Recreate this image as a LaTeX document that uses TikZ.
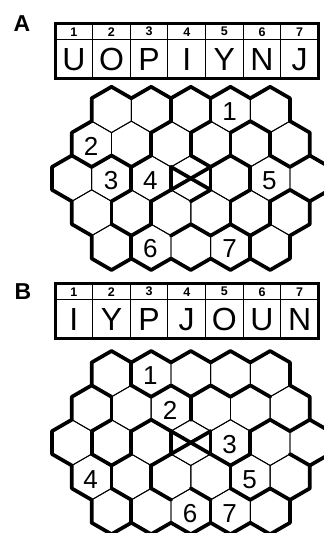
\documentclass[tikz,border=0pt]{standalone}
\usepackage{fontspec}
\setmainfont{Liberation Sans}
\newcommand\mkgrid[2]{%
 \foreach \u in {0,...,14}{\foreach \L in {0,...,11}{%
   \pgfmathsetmacro\yy{mod(\L,2)==0 ? #2-22.9+17.175*\L : #2-11.45+17.175*(\L-1)}%
   \coordinate (#1-\u-\L) at ({52+19.83*\u},\yy);}}}
\newcommand\thingrid[1]{%
 \foreach \r/\uu in {0/{3,5,7,9,11},1/{2,4,6,8,10,12},2/{1,3,5,7,9,11,13},3/{2,4,6,8,10,12},4/{3,5,7,9,11}}{%
  \foreach \u in \uu {%
   \pgfmathtruncatemacro\la{2*\r}\pgfmathtruncatemacro\lb{2*\r+1}%
   \pgfmathtruncatemacro\lc{2*\r+2}\pgfmathtruncatemacro\ld{2*\r+3}%
   \pgfmathtruncatemacro\um{\u-1}\pgfmathtruncatemacro\up{\u+1}%
   \draw[thn] (#1-\u-\la) -- (#1-\up-\lb) -- (#1-\up-\lc) -- (#1-\u-\ld) -- (#1-\um-\lc) -- (#1-\um-\lb) -- cycle;}}}
\newcommand\gridoutline[1]{%
 \draw[thk] (#1-2-1) -- (#1-3-0) -- (#1-4-1) -- (#1-5-0) -- (#1-6-1) -- (#1-7-0) -- (#1-8-1) -- (#1-9-0) -- (#1-10-1) -- (#1-11-0) -- (#1-12-1) -- (#1-12-2) -- (#1-13-3) -- (#1-13-4) -- (#1-14-5) -- (#1-14-6) -- (#1-13-7) -- (#1-13-8) -- (#1-12-9) -- (#1-12-10) -- (#1-11-11) -- (#1-10-10) -- (#1-9-11) -- (#1-8-10) -- (#1-7-11) -- (#1-6-10) -- (#1-5-11) -- (#1-4-10) -- (#1-3-11) -- (#1-2-10) -- (#1-2-9) -- (#1-1-8) -- (#1-1-7) -- (#1-0-6) -- (#1-0-5) -- (#1-1-4) -- (#1-1-3) -- (#1-2-2) -- cycle;}
\newcommand\lettertable[3]{% #1 prefix, #2 top y, #3 letters
 \pgfmathsetmacro\tb{#2+55.4}\pgfmathsetmacro\ts{#2+16}%
 \pgfmathsetmacro\tn{#2+8.4}\pgfmathsetmacro\tl{#2+36.2}%
 \foreach \k in {1,...,6}{\draw[thn] ({55+37.64*\k},#2) -- ({55+37.64*\k},\tb);}
 \draw[thn] (55,\ts) -- (318.5,\ts);
 \draw[line width=3pt] (55,#2) rectangle (318.5,\tb);
 \foreach \L [count=\k] in {#3}{%
   \node[num] (#1-n\k) at ({55+37.64*(\k-0.5)},\tn) {\k};
   \node[letter] (#1-l\k) at ({55+37.64*(\k-0.5)},\tl) {\L};}}
\begin{document}
\begin{tikzpicture}[x=1pt,y=-1pt,
  thn/.style={line width=0.9pt},
  thk/.style={line width=3.7pt,line cap=round,line join=round},
  digit/.style={font=\fontsize{26}{26}\selectfont,inner sep=0pt},
  letter/.style={font=\fontsize{32}{32}\selectfont,inner sep=0pt},
  num/.style={font=\bfseries\fontsize{12.5}{12.5}\selectfont,inner sep=0pt},
  panel/.style={font=\bfseries\fontsize{23}{23}\selectfont,inner sep=0pt}]
\useasboundingbox (0,0) rectangle (324,533);
\clip (0,0) rectangle (324,533);
% panel labels
\node[panel] (labA) at (22,24) {A};
\node[panel] (labB) at (23,292) {B};
% tables
\lettertable{tA}{23.3}{U,O,P,I,Y,N,J}
\lettertable{tB}{283.3}{I,Y,P,J,O,U,N}
% grid A
\mkgrid{A}{109.7}
\thingrid{A}
\gridoutline{A}
\foreach \p/\q in {6-1/6-2,8-1/8-2,
  5-3/6-2,7-3/8-2,9-3/10-2,10-2/11-3,
  5-3/5-4,7-3/7-4,9-3/9-4,11-3/11-4,
  1-4/2-5,2-5/3-4,3-4/4-5,4-5/5-4,7-4/8-5,8-5/9-4,9-4/10-5,11-4/12-5,12-5/13-4,
  4-5/4-6,6-5/6-6,8-5/8-6,10-5/10-6,6-5/8-6,6-6/8-5,
  3-7/4-6,5-7/6-6,7-7/8-6,9-7/10-6,11-7/12-6,12-6/13-7,
  3-7/3-8,5-7/5-8,9-7/9-8,11-7/11-8,
  3-8/4-9,4-9/5-8,6-9/7-8,7-8/8-9,8-9/9-8,9-8/10-9,10-9/11-8,
  4-9/4-10,10-9/10-10}
  {\draw[thk] (A-\p) -- (A-\q);}
% grid B
\mkgrid{B}{373.9}
\thingrid{B}
\gridoutline{B}
\foreach \p/\q in {4-1/4-2,
  2-2/3-3,4-2/5-3,5-3/6-2,6-2/7-3,7-3/8-2,8-2/9-3,9-3/10-2,10-2/11-3,
  3-3/3-4,7-3/7-4,
  2-5/3-4,4-5/5-4,5-4/6-5,10-5/11-4,11-4/12-5,12-5/13-4,
  2-5/2-6,4-5/4-6,6-5/6-6,8-5/8-6,10-5/10-6,6-5/8-6,6-6/8-5,
  2-6/3-7,3-7/4-6,5-7/6-6,8-6/9-7,9-7/10-6,12-6/13-7,
  3-7/3-8,5-7/5-8,9-7/9-8,
  3-8/4-9,5-8/6-9,7-8/8-9,9-8/10-9,10-9/11-8,11-8/12-9,
  4-9/4-10,8-9/8-10}
  {\draw[thk] (B-\p) -- (B-\q);}
% digits A
\node[digit] (dA1) at (229.7,111.7) {1};
\node[digit] (dA2) at (91.2,146) {2};
\node[digit] (dA3) at (111.1,180.5) {3};
\node[digit] (dA4) at (150.3,180.5) {4};
\node[digit] (dA5) at (269.4,180.5) {5};
\node[digit] (dA6) at (150.3,248.5) {6};
\node[digit] (dA7) at (229.7,248.5) {7};
% digits B
\node[digit] (dB1) at (150.3,376) {1};
\node[digit] (dB2) at (170.1,410.5) {2};
\node[digit] (dB3) at (229.7,445) {3};
\node[digit] (dB4) at (90.7,479.5) {4};
\node[digit] (dB5) at (249.5,479.5) {5};
\node[digit] (dB6) at (190,513.5) {6};
\node[digit] (dB7) at (229.7,513.5) {7};
\end{tikzpicture}
\end{document}
